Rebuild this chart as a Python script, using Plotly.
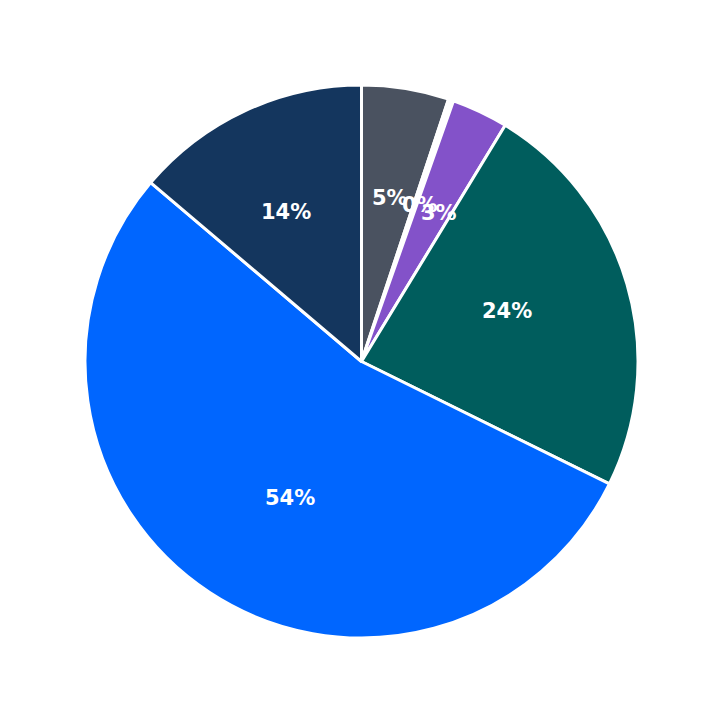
import math
import plotly.graph_objects as go

labels = ["A", "B", "C", "D", "E", "F"]
values = [5.1, 0.3, 3.3, 23.6, 53.9, 13.8]
colors = ["#4a5260", "#ffffff", "#8352c9", "#005d5d", "#0066ff", "#14365e"]

W = 723
L, R, T, B = 85, 85, 85, 85
fig = go.Figure(go.Pie(
    labels=labels, values=values, sort=False, direction="clockwise", rotation=0,
    marker=dict(colors=colors, line=dict(color="white", width=3)),
    textinfo="none", hoverinfo="label+percent",
    showlegend=False,
))

# label placement at 0.65 of radius along each slice bisector
total = sum(values)
plot_w = W - L - R
cx, cy = 0.5, 0.5
rad_frac = 0.65 * 0.5  # fraction of plot area
cum = 0.0
for v in values:
    mid = (cum + v / 2) / total * 2 * math.pi
    cum += v
    x = cx + rad_frac * math.sin(mid)
    y = cy + rad_frac * math.cos(mid)
    fig.add_annotation(x=x, y=y, xref="x domain" if False else "paper", yref="paper",
                       text=f"{round(v / total * 100)}%", showarrow=False,
                       font=dict(family="DejaVu Sans", size=21, color="white", weight="bold"))

fig.update_layout(width=W, height=W, margin=dict(l=L - 8, r=R + 8, t=T - 8, b=B + 8),
                  paper_bgcolor="white")
fig.write_html("out.html")
